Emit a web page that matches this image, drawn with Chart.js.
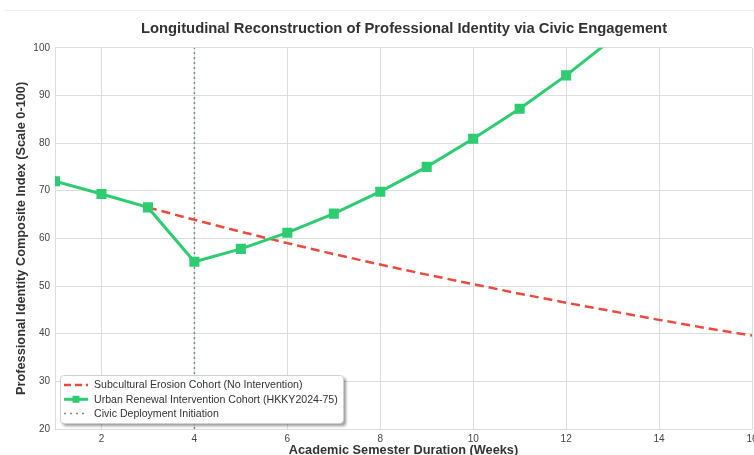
<!DOCTYPE html>
<html>
<head>
<meta charset="utf-8">
<script src="https://cdn.jsdelivr.net/npm/chart.js@4.4.1/dist/chart.umd.min.js"></script>
<style>
  html, body { margin: 0; padding: 0; background: #fff; overflow: hidden; }
  #wrap { position: relative; width: 754px; height: 455px; overflow: hidden; }
  #rule { position: absolute; top: 10px; left: 5px; right: 0; height: 1px; background: #ececec; }
  #chart { position: absolute; top: 0; left: 0; }
</style>
</head>
<body>
<div id="wrap">
  <div id="rule"></div>
  <canvas id="chart" width="808" height="470"></canvas>
</div>
<script>
const weeks = [1, 2, 3, 4, 5, 6, 7, 8, 9, 10, 11, 12, 13, 14, 15, 16]
const interventionScores = [72.0, 69.3, 66.5, 55.1, 57.8, 61.2, 65.2, 69.8, 75.0, 80.9, 87.2, 94.2, 101.9, 110.0, 118.5, 127.5]
const controlScores = [null, null, 66.5, 63.9, 61.4, 59.0, 56.7, 54.5, 52.4, 50.4, 48.4, 46.5, 44.7, 42.9, 41.2, 39.6]
const deploymentWeek = 4
const xTicks = [2, 4, 6, 8, 10, 12, 14, 16]
const yTicks = [20, 30, 40, 50, 60, 70, 80, 90, 100]

const seriesLabels = [
  "Subcultural Erosion Cohort (No Intervention)",
  "Urban Renewal Intervention Cohort (HKKY2024-75)",
  "Civic Deployment Initiation"
]

const RED = "#e74c3c"
const GREEN = "#2ecc71"
const GREY = "#7f8c8d"
const FONT = "'Liberation Sans', Arial, Helvetica, sans-serif"

const toPoints = values => weeks.map((w, i) => ({ x: w, y: values[i] }))

// legend drawn inside the plot, bottom left, like the original
const insideLegend = {
  id: 'insideLegend',
  afterDraw(chart) {
    const { ctx, chartArea } = chart
    const w = 283, h = 48
    const x = chartArea.left + 5
    const y = chartArea.bottom - 6 - h

    ctx.save()
    ctx.shadowColor = 'rgba(0,0,0,0.4)'
    ctx.shadowOffsetX = 3
    ctx.shadowOffsetY = 3
    ctx.shadowBlur = 3
    ctx.fillStyle = '#ffffff'
    ctx.beginPath()
    ctx.roundRect(x, y, w, h, 3)
    ctx.fill()
    ctx.restore()

    ctx.save()
    ctx.strokeStyle = '#d0d0d0'
    ctx.lineWidth = 1
    ctx.beginPath()
    ctx.roundRect(x + 0.5, y + 0.5, w, h, 3)
    ctx.stroke()

    ctx.font = "10.6px " + FONT
    ctx.fillStyle = '#333333'
    ctx.textBaseline = 'middle'

    chart.data.datasets.forEach((ds, i) => {
      const rowY = y + 10 + i * 14.3
      ctx.save()
      ctx.strokeStyle = ds.borderColor
      ctx.lineWidth = ds.borderWidth
      ctx.setLineDash(ds.legendDash || [])
      ctx.beginPath()
      ctx.moveTo(x + 4, rowY)
      ctx.lineTo(x + 28, rowY)
      ctx.stroke()
      if (ds.pointRadius > 0) {
        ctx.fillStyle = ds.borderColor
        ctx.fillRect(x + 12.5, rowY - 3.5, 7, 7)
      }
      ctx.restore()
      ctx.fillText(ds.label, x + 34, rowY + 0.5)
    })
    ctx.restore()
  }
}

new Chart(document.getElementById('chart'), {
  type: 'line',
  data: {
    datasets: [
      {
        label: seriesLabels[0],
        data: toPoints(controlScores),
        borderColor: RED,
        backgroundColor: RED,
        borderWidth: 2.5,
        borderDash: [9, 5],
        legendDash: [7, 4],
        pointRadius: 0,
        order: 1
      },
      {
        label: seriesLabels[1],
        data: toPoints(interventionScores),
        borderColor: GREEN,
        backgroundColor: GREEN,
        borderWidth: 3,
        pointStyle: 'rect',
        pointRadius: 5,
        pointBackgroundColor: GREEN,
        pointBorderColor: GREEN,
        order: 0
      },
      {
        label: seriesLabels[2],
        data: [{ x: deploymentWeek, y: 20 }, { x: deploymentWeek, y: 100 }],
        borderColor: GREY,
        borderWidth: 1.5,
        borderDash: [2, 3],
        legendDash: [2, 4],
        pointRadius: 0,
        order: 2
      }
    ]
  },
  options: {
    responsive: false,
    animation: false,
    layout: { padding: 0 },
    plugins: {
      legend: { display: false },
      tooltip: { enabled: false },
      title: {
        display: true,
        text: "Longitudinal Reconstruction of Professional Identity via Civic Engagement",
        color: '#333333',
        font: { family: FONT, size: 14.8, weight: 'bold' },
        padding: { top: 20, bottom: 10 }
      }
    },
    scales: {
      x: {
        type: 'linear',
        min: 1,
        max: 16,
        afterBuildTicks: axis => { axis.ticks = xTicks.map(v => ({ value: v })) },
        afterFit: axis => { axis.height = 41 },
        grid: { color: '#dddddd', drawTicks: false },
        border: { color: '#dddddd' },
        ticks: { color: '#444444', font: { family: FONT, size: 10 }, padding: 4, maxRotation: 0 },
        title: {
          display: true,
          text: "Academic Semester Duration (Weeks)",
          color: '#333333',
          font: { family: FONT, size: 12.75, weight: 'bold' },
          padding: { top: 4, bottom: 12 }
        }
      },
      y: {
        min: 20,
        max: 100,
        afterBuildTicks: axis => { axis.ticks = yTicks.map(v => ({ value: v })) },
        afterFit: axis => { axis.width = 55 },
        grid: { color: '#dddddd', drawTicks: false },
        border: { color: '#dddddd' },
        ticks: { color: '#444444', font: { family: FONT, size: 10 }, padding: 5 },
        title: {
          display: true,
          text: "Professional Identity Composite Index (Scale 0-100)",
          color: '#333333',
          font: { family: FONT, size: 12.75, weight: 'bold' },
          padding: { top: 14, bottom: 4 }
        }
      },
      // empty right-hand axis, only reserves the space past week 16
      spacer: {
        position: 'right',
        display: true,
        afterFit: axis => { axis.width = 56 },
        grid: { display: false },
        border: { display: false },
        ticks: { display: false }
      }
    }
  },
  plugins: [insideLegend]
})
</script>
</body>
</html>
